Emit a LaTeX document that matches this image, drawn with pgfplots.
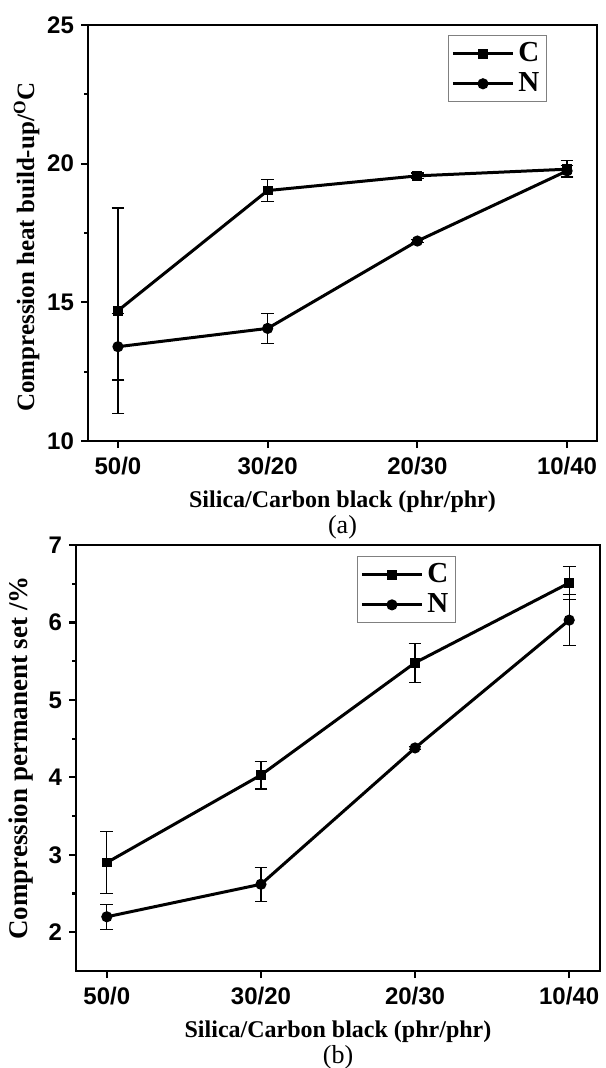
\documentclass[border=0pt]{standalone}
\usepackage{fontspec}
\setmainfont{Liberation Serif}
\setsansfont{Liberation Sans}
\usepackage{pgfplots}
\usepackage{pgfplotstable}
\pgfplotsset{compat=1.18}

% heat build-up (a)
\pgfplotstableread{
x y e
0 14.70 3.70
1 19.03 0.40
2 19.56 0.10
3 19.80 0.30
}\heatC
\pgfplotstableread{
x y e
0 13.40 1.20
1 14.06 0.55
2 17.21 0.05
3 19.74 0.20
}\heatN
% permanent set (b)
\pgfplotstableread{
x y e
0 2.90 0.40
1 4.03 0.18
2 5.48 0.25
3 6.51 0.21
}\setC
\pgfplotstableread{
x y e
0 2.20 0.16
1 2.62 0.22
2 4.38 0.02
3 6.03 0.33
}\setN

\pgfplotsset{
  panel/.style={
    scale only axis,
    axis line style={line width=1.4pt},
    tick style={line width=1.1pt, black},
    major tick length=3.5pt, minor tick length=2pt,
    tick align=outside, xtick pos=bottom, ytick pos=left,
    xmin=-0.2, xmax=3.2,
    xtick={0,1,2,3}, xticklabels={50/0,30/20,20/30,10/40},
    minor y tick num=1,
    ticklabel style={font=\fontsize{12}{14}\sffamily\bfseries},
    xticklabel style={yshift=-1pt},
    /pgf/number format/assume math mode=true,
    xlabel style={align=center, font=\fontsize{12}{13}\selectfont, yshift=-1pt},
    legend style={draw=gray, line width=0.6pt, fill=white,
      font=\fontsize{14.5}{16}\bfseries, inner sep=1.5pt, row sep=0pt},
    legend cell align=left,
    legend image code/.code={
      \draw[##1, mark repeat=2, mark phase=2] plot coordinates {(0pt,0pt) (15pt,0pt) (30pt,0pt)};
    },
  },
  ser/.style={black, line width=1.5pt, mark=#1, mark options={solid},
    error bars/.cd, y dir=both, y explicit,
    error bar style={line width=0.6pt, black},
    error mark options={rotate=90, mark size=3.2pt, line width=0.6pt, black}},
}

\begin{document}
\begin{tikzpicture}
\useasboundingbox (-44pt,-313.5pt) rectangle (258.5pt,220.5pt);
\begin{axis}[panel, at={(0pt,0pt)}, anchor=south west,
  width=254.5pt, height=208pt,
  ymin=10, ymax=25, ytick={10,15,20,25},
  xlabel={\textbf{Silica/Carbon black (phr/phr)}\\[0pt]{\fontsize{13}{13}\selectfont (a)}},
  ylabel={Compression heat build-up/\textsuperscript{O}C},
  ylabel style={font=\fontsize{12.5}{15}\bfseries, xshift=-7pt, yshift=-3pt},
  legend style={at={(0.707,0.976)}, anchor=north west},
]
\addplot[mark size=1.7pt, ser={square*}] table[x=x, y=y, y error=e] {\heatC};
\addlegendentry{C}
\addplot[mark size=2pt, ser={*}] table[x=x, y=y, y error=e] {\heatN};
\addlegendentry{N}
\end{axis}

\begin{axis}[panel, at={(-6pt,-265pt)}, anchor=south west,
  width=262pt, height=213pt,
  ymin=1.5, ymax=7, ytick={2,3,4,5,6,7},
  xlabel={\textbf{Silica/Carbon black (phr/phr)}\\[0pt]{\fontsize{13}{13}\selectfont (b)}},
  ylabel={Compression permanent set /\%},
  ylabel style={font=\fontsize{13.5}{15}\bfseries, yshift=1pt},
  legend style={at={(0.536,0.974)}, anchor=north west},
]
\addplot[mark size=1.7pt, ser={square*}] table[x=x, y=y, y error=e] {\setC};
\addlegendentry{C}
\addplot[mark size=2pt, ser={*}] table[x=x, y=y, y error=e] {\setN};
\addlegendentry{N}
\end{axis}
\end{tikzpicture}
\end{document}
